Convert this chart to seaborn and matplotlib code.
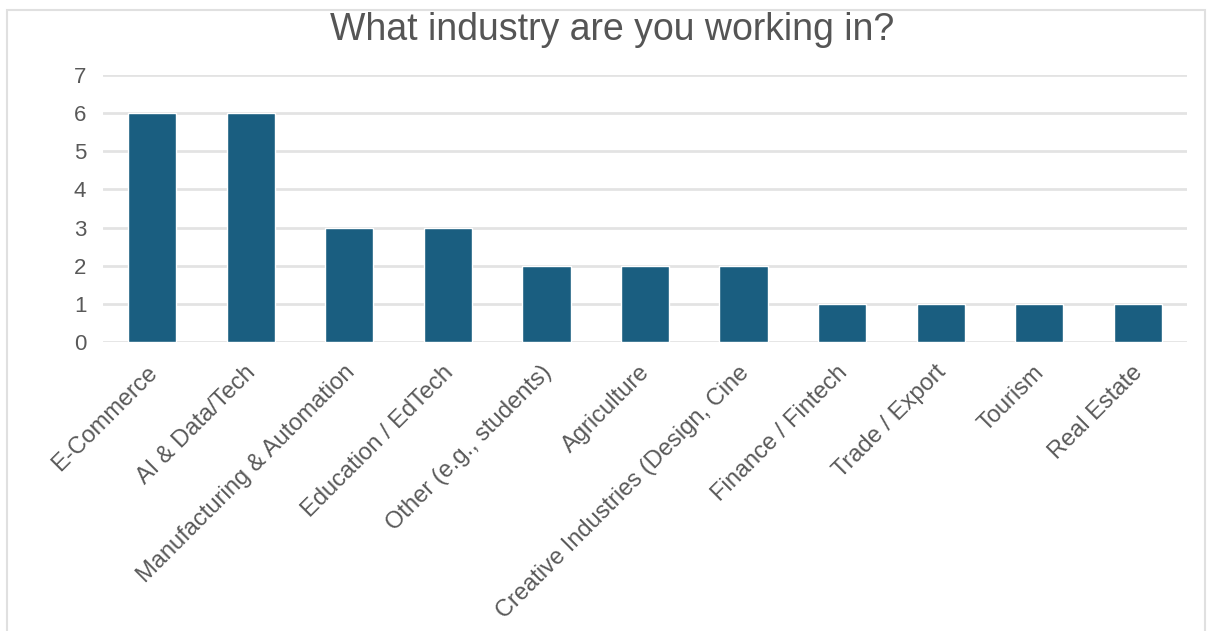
import pandas as pd
import matplotlib.pyplot as plt
import matplotlib.transforms as mtransforms
import seaborn as sns
from matplotlib.patches import Rectangle

industries = ['E-Commerce', 'AI & Data/Tech', 'Manufacturing & Automation',
              'Education / EdTech', 'Other (e.g., students)', 'Agriculture',
              'Creative Industries (Design, Cine', 'Finance / Fintech',
              'Trade / Export', 'Tourism', 'Real Estate']
counts = [6, 6, 3, 3, 2, 2, 2, 1, 1, 1, 1]
y_ticks = [0, 1, 2, 3, 4, 5, 6, 7]

df = pd.DataFrame({'Industry': industries, 'Count': counts})

sns.set_style('white')
plt.rcParams['font.family'] = ['Liberation Sans', 'DejaVu Sans']

fig = plt.figure(figsize=(12.14, 6.31), dpi=100)
ax = fig.add_axes([0.0848, 0.458, 0.893, 0.423])

sns.barplot(data=df, x='Industry', y='Count', color='#1a5e80', width=0.49,
            saturation=1, ax=ax)

ax.set_ylim(0, 7)
ax.set_xlim(-0.5, len(industries) - 0.5)
ax.set_yticks(y_ticks)
ax.yaxis.grid(True, color='#e3e3e3', linewidth=2)
ax.set_axisbelow(True)
for s in ax.spines.values():
    s.set_visible(False)
ax.tick_params(axis='both', length=0, labelcolor='#595959')
ax.tick_params(axis='y', pad=12, labelsize=16)
ax.tick_params(axis='x', pad=14, labelsize=17)
# nudge rotated labels a little to the left
shift = mtransforms.ScaledTranslation(-6 / 100, 0, fig.dpi_scale_trans)
for lbl in ax.get_xticklabels():
    lbl.set_rotation(45)
    lbl.set_ha('right')
    lbl.set_rotation_mode('anchor')
    lbl.set_transform(lbl.get_transform() + shift)
ax.set_xlabel('')
ax.set_ylabel('')

fig.text(0.504, 0.952, 'What industry are you working in?', ha='center', va='center',
         fontsize=27, color='#555555')

fig.patches.append(Rectangle((7 / 1214, -0.01), 1198 / 1214, 0.002 + 626 / 631,
                             transform=fig.transFigure, fill=False,
                             edgecolor='#e0e0e0', linewidth=1.5))

fig.savefig('out.png', dpi=100)
